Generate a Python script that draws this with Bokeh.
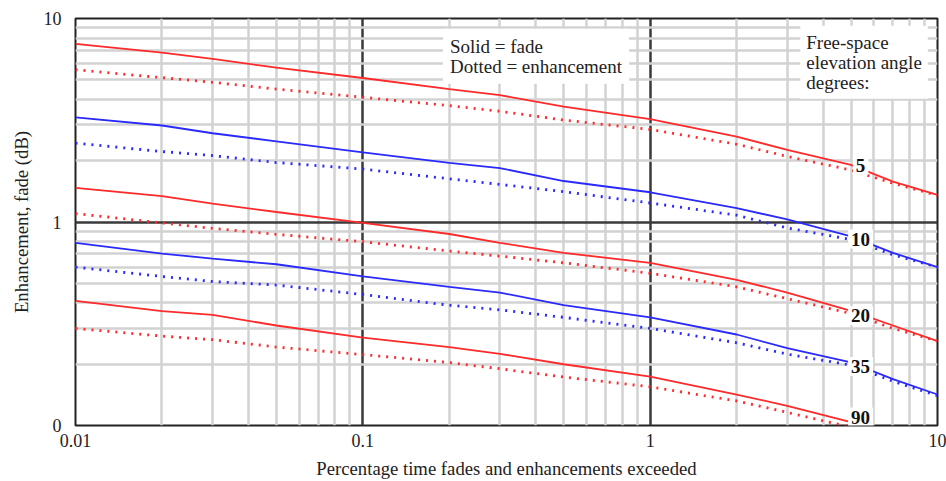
from bokeh.plotting import figure
from bokeh.models import FixedTicker, CustomJSTickFormatter, Label
from bokeh.embed import file_html
from bokeh.resources import INLINE

# Percentage of time exceeded
pct = [0.01, 0.02, 0.03, 0.05, 0.1, 0.2, 0.3, 0.5, 1, 2, 3, 5, 7, 10]

# Fades (solid) and enhancements (dotted), dB, per free-space elevation angle
fade_5 = [7.5, 6.8, 6.33, 5.73, 5.1, 4.5, 4.2, 3.69, 3.2, 2.63, 2.26, 1.91, 1.58, 1.36]
enh_5 = [5.6, 5.12, 4.86, 4.5, 4.1, 3.73, 3.5, 3.17, 2.85, 2.41, 2.1, 1.8, 1.55, 1.35]
fade_10 = [3.27, 2.98, 2.73, 2.49, 2.2, 1.95, 1.84, 1.59, 1.40, 1.17, 1.03, 0.85, 0.705, 0.6]
enh_10 = [2.44, 2.22, 2.12, 1.96, 1.82, 1.63, 1.53, 1.41, 1.24, 1.08, 0.935, 0.82, 0.69, 0.6]
fade_20 = [1.47, 1.34, 1.23, 1.12, 0.99, 0.873, 0.79, 0.705, 0.63, 0.52, 0.45, 0.366, 0.31, 0.26]
enh_20 = [1.1, 0.99, 0.93, 0.87, 0.8, 0.72, 0.68, 0.63, 0.56, 0.48, 0.42, 0.355, 0.3, 0.26]
fade_35 = [0.79, 0.70, 0.66, 0.62, 0.54, 0.48, 0.45, 0.39, 0.34, 0.28, 0.24, 0.204, 0.169, 0.142]
enh_35 = [0.6, 0.54, 0.51, 0.49, 0.44, 0.39, 0.37, 0.34, 0.30, 0.255, 0.224, 0.198, 0.165, 0.14]
fade_90 = [0.41, 0.365, 0.35, 0.31, 0.27, 0.243, 0.225, 0.2, 0.174, 0.142, 0.125, 0.104]
enh_90 = [0.30, 0.275, 0.264, 0.243, 0.223, 0.204, 0.19, 0.173, 0.155, 0.132, 0.116, 0.098]

angles = ["5", "10", "20", "35", "90"]
fades = [fade_5, fade_10, fade_20, fade_35, fade_90]
enhs = [enh_5, enh_10, enh_20, enh_35, enh_90]
colors = ["#ff2a2a", "#2a2aff", "#ff2a2a", "#2a2aff", "#ff2a2a"]

# annotation positions of the angle labels (data units)
label_x = 5.4
label_y = [1.9, 0.825, 0.346, 0.195, 0.11]

x_major = [0.01, 0.1, 1, 10]
x_minor = [m * d for d in [0.01, 0.1, 1] for m in range(2, 10)]
y_major = [0.1, 1, 10]
y_minor = [m * d for d in [0.1, 1] for m in range(2, 10)]

SERIF = "Liberation Serif, Times New Roman, serif"

p = figure(width=946, height=481, x_axis_type="log", y_axis_type="log",
           x_range=(0.01, 10), y_range=(0.1, 10),
           output_backend="svg", toolbar_location=None,
           min_border_left=75, min_border_right=9, min_border_top=18, min_border_bottom=55,
           background_fill_color="white", border_fill_color="white")

for ax, ticks, minor in ((p.xaxis, x_major, x_minor), (p.yaxis, y_major, y_minor)):
    ax.ticker = FixedTicker(ticks=ticks, minor_ticks=minor)
    ax.major_tick_line_color = None
    ax.minor_tick_line_color = None
    ax.axis_line_color = None
    ax.major_label_text_font = SERIF
    ax.major_label_text_font_size = "18px"
    ax.major_label_text_color = "#222"
    ax.axis_label_text_font = SERIF
    ax.axis_label_text_font_size = "18.7px"
    ax.axis_label_text_font_style = "normal"
    ax.axis_label_text_color = "#222"

p.xaxis.formatter = CustomJSTickFormatter(code="return String(tick);")
p.yaxis.formatter = CustomJSTickFormatter(code="return tick < 0.5 ? '0' : String(Math.round(tick));")
p.xaxis.major_label_standoff = 2
p.yaxis.major_label_standoff = 8
p.xaxis.axis_label = "Percentage time fades and enhancements exceeded"
p.yaxis.axis_label = "Enhancement, fade (dB)"
p.xaxis.axis_label_standoff = 8
p.yaxis.axis_label_standoff = 9

p.xgrid.ticker = FixedTicker(ticks=x_major, minor_ticks=x_minor)
p.ygrid.ticker = FixedTicker(ticks=y_major, minor_ticks=y_minor)
for g in (p.xgrid, p.ygrid):
    g.grid_line_color = "#3a3a3a"
    g.grid_line_width = 2.5
    g.grid_line_alpha = 1
    g.minor_grid_line_color = "#d2d2d2"
    g.minor_grid_line_width = 2.5
    g.level = "underlay"

p.outline_line_color = "#222"
p.outline_line_width = 2

for ang, fd, en, col, ly in zip(angles, fades, enhs, colors, label_y):
    p.line(pct[:len(fd)], fd, line_color=col, line_width=1.8)
    p.line(pct[:len(en)], en, line_color=col, line_width=2.8, line_dash="2 6")
    p.add_layout(Label(x=label_x, y=ly, text=ang, text_font=SERIF, text_font_size="19px",
                       text_font_style="bold", text_color="#111", text_align="center",
                       text_baseline="middle", background_fill_color="white",
                       background_fill_alpha=1.0, padding=3))

p.add_layout(Label(x=0.19, y=8.9, text="Solid = fade\nDotted = enhancement",
                   text_font=SERIF, text_font_size="19px", text_color="#222",
                   text_align="left", text_baseline="top", text_line_height=0.95,
                   background_fill_color="white", background_fill_alpha=1.0, padding=7))
p.add_layout(Label(x=3.33, y=9.2, text="Free-space\nelevation angle\ndegrees:",
                   text_font=SERIF, text_font_size="19px", text_color="#222",
                   text_align="left", text_baseline="top", text_line_height=0.95,
                   background_fill_color="white", background_fill_alpha=1.0, padding=6))

open("out.html", "w").write(file_html(p, INLINE))
